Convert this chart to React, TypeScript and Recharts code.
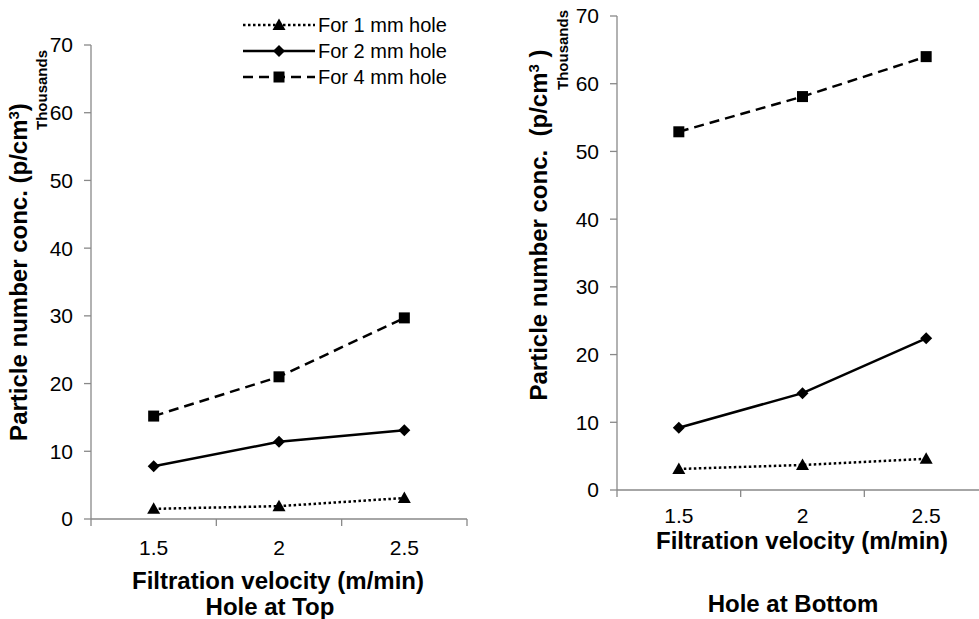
import React from "react";
import { LineChart, Line, XAxis, YAxis, Legend } from "recharts";

// filtration velocity (m/min) — one category per point
const velocities = [1.5, 2, 2.5];
// tick marks sit between the categories, like the Excel original
const xTickEdges = [1.25, 1.75, 2.25, 2.75];
const yTicks = [0, 10, 20, 30, 40, 50, 60, 70];

// hole at top (thousands of p/cm3)
const top1mm = [1.5, 1.9, 3.1];
const top2mm = [7.8, 11.4, 13.1];
const top4mm = [15.2, 21.0, 29.7];

// hole at bottom (thousands of p/cm3)
const bottom1mm = [3.1, 3.7, 4.6];
const bottom2mm = [9.2, 14.3, 22.4];
const bottom4mm = [52.9, 58.1, 64.0];

const seriesNames = ["For 1 mm hole", "For 2 mm hole", "For 4 mm hole"];

const FONT = '"Liberation Sans", Arial, sans-serif';
const AXIS = "#898989";

type Shape = "triangle" | "diamond" | "square";

const series: { key: string; name: string; dash?: string; shape: Shape }[] = [
  { key: "h1", name: seriesNames[0], dash: "2.5 2.5", shape: "triangle" },
  { key: "h2", name: seriesNames[1], shape: "diamond" },
  { key: "h4", name: seriesNames[2], dash: "10 6", shape: "square" },
];

const toRows = (a: number[], b: number[], c: number[]) =>
  velocities.map((v, i) => ({ v, h1: a[i], h2: b[i], h4: c[i] }));

const topRows = toRows(top1mm, top2mm, top4mm);
const bottomRows = toRows(bottom1mm, bottom2mm, bottom4mm);

function marker(shape: Shape, cx: number, cy: number, key?: string) {
  if (shape === "triangle") {
    return (
      <path
        key={key}
        d={`M${cx},${cy - 6.5}L${cx + 6.5},${cy + 5}L${cx - 6.5},${cy + 5}Z`}
        fill="#000"
      />
    );
  }
  if (shape === "diamond") {
    return (
      <path
        key={key}
        d={`M${cx},${cy - 6}L${cx + 6},${cy}L${cx},${cy + 6}L${cx - 6},${cy}Z`}
        fill="#000"
      />
    );
  }
  return <rect key={key} x={cx - 5.5} y={cy - 5.5} width={11} height={11} fill="#000" />;
}

function VelocityTick(props: any) {
  const { x, y, payload, dy } = props;
  const v = payload.value;
  if (velocities.includes(v)) {
    return (
      <text x={x} y={y + dy} textAnchor="middle" fontSize={21} fill="#000" fontFamily={FONT}>
        {v}
      </text>
    );
  }
  return <line x1={x} x2={x} y1={y} y2={y + 7} stroke={AXIS} strokeWidth={1.3} />;
}

function LegendBox() {
  return (
    <div>
      {series.map((s) => (
        <div key={s.key} style={{ display: "flex", alignItems: "center", height: 26 }}>
          <svg width={72} height={26}>
            <line
              x1={0}
              x2={72}
              y1={13}
              y2={13}
              stroke="#000"
              strokeWidth={2.5}
              strokeDasharray={s.dash}
            />
            {marker(s.shape, 36, 13)}
          </svg>
          <span
            style={{
              marginLeft: 3,
              fontSize: 20,
              fontFamily: FONT,
              color: "#000",
              lineHeight: "26px",
              whiteSpace: "nowrap",
            }}
          >
            {s.name}
          </span>
        </div>
      ))}
    </div>
  );
}

function YTitle({ x, y, tx, ty, spaced }: { x: number; y: number; tx: number; ty: number; spaced?: boolean }) {
  return (
    <g>
      <text
        transform={`translate(${x},${y}) rotate(-90)`}
        textAnchor="middle"
        fontSize={24}
        fontWeight="bold"
        fill="#000"
        fontFamily={FONT}
        style={{ whiteSpace: "pre" }}
      >
        {spaced ? "Particle number conc.  (p/cm" : "Particle number conc. (p/cm"}
        <tspan dy={-8} fontSize={15}>
          3
        </tspan>
        <tspan dy={8}>{spaced ? " )" : ")"}</tspan>
      </text>
      <text
        transform={`translate(${tx},${ty}) rotate(-90)`}
        textAnchor="middle"
        fontSize={15}
        fontWeight="bold"
        fill="#000"
        fontFamily={FONT}
      >
        Thousands
      </text>
    </g>
  );
}

function XTitle({ x, y, sx, sy, sub }: { x: number; y: number; sx: number; sy: number; sub: string }) {
  return (
    <g>
      <text x={x} y={y} textAnchor="middle" fontSize={24} fontWeight="bold" fill="#000" fontFamily={FONT}>
        Filtration velocity (m/min)
      </text>
      <text x={sx} y={sy} textAnchor="middle" fontSize={24} fontWeight="bold" fill="#000" fontFamily={FONT}>
        {sub}
      </text>
    </g>
  );
}

function Panel({
  rows,
  width,
  margin,
  tickDy,
  yTitle,
  xTitle,
  legend,
}: {
  rows: any[];
  width: number;
  margin: { top: number; right: number; bottom: number; left: number };
  tickDy: number;
  yTitle: React.ReactNode;
  xTitle: React.ReactNode;
  legend?: boolean;
}) {
  return (
    <LineChart width={width} height={619} data={rows} margin={margin} style={{ fontFamily: FONT }}>
      <XAxis
        type="number"
        dataKey="v"
        domain={[xTickEdges[0], xTickEdges[xTickEdges.length - 1]]}
        ticks={[...xTickEdges, ...velocities].sort((a, b) => a - b)}
        interval={0}
        height={40}
        tickSize={0}
        tickMargin={0}
        tickLine={false}
        axisLine={{ stroke: AXIS, strokeWidth: 1.3 }}
        tick={(p: any) => <VelocityTick {...p} dy={tickDy} />}
        label={() => xTitle}
      />
      <YAxis
        type="number"
        domain={[0, 70]}
        ticks={yTicks}
        interval={0}
        width={60}
        tickSize={7}
        tickMargin={11}
        axisLine={{ stroke: AXIS, strokeWidth: 1.3 }}
        tickLine={{ stroke: AXIS, strokeWidth: 1.3 }}
        tick={{ fontSize: 21, fill: "#000", fontFamily: FONT }}
        label={() => yTitle}
      />
      {legend && (
        <Legend
          layout="vertical"
          align="center"
          verticalAlign="middle"
          wrapperStyle={{ left: 243, top: 12, width: 240 }}
          content={() => <LegendBox />}
        />
      )}
      {series.map((s) => (
        <Line
          key={s.key}
          dataKey={s.key}
          name={s.name}
          type="linear"
          stroke="#000"
          strokeWidth={2.5}
          strokeDasharray={s.dash}
          isAnimationActive={false}
          activeDot={false}
          dot={(p: any) => marker(s.shape, p.cx, p.cy, `${s.key}-${p.index}`)}
        />
      ))}
    </LineChart>
  );
}

export default function App() {
  return (
    <div
      style={{
        position: "absolute",
        left: 0,
        top: 0,
        width: 979,
        height: 619,
        overflow: "hidden",
        background: "#fff",
        fontFamily: FONT,
      }}
    >
      <div style={{ position: "absolute", left: 0, top: 0 }}>
        <Panel
          rows={topRows}
          width={490}
          margin={{ top: 45, right: 23, bottom: 60, left: 31 }}
          tickDy={36}
          yTitle={<YTitle x={27} y={272} tx={47} ty={90} />}
          xTitle={<XTitle x={278} y={589} sx={270} sy={615} sub="Hole at Top" />}
          legend
        />
      </div>
      <div style={{ position: "absolute", left: 490, top: 0 }}>
        <Panel
          rows={bottomRows}
          width={510}
          margin={{ top: 16, right: 12, bottom: 89, left: 67 }}
          tickDy={33}
          yTitle={<YTitle x={57} y={225} tx={78} ty={50} spaced />}
          xTitle={<XTitle x={312} y={549} sx={303} sy={612} sub="Hole at Bottom" />}
        />
      </div>
    </div>
  );
}
